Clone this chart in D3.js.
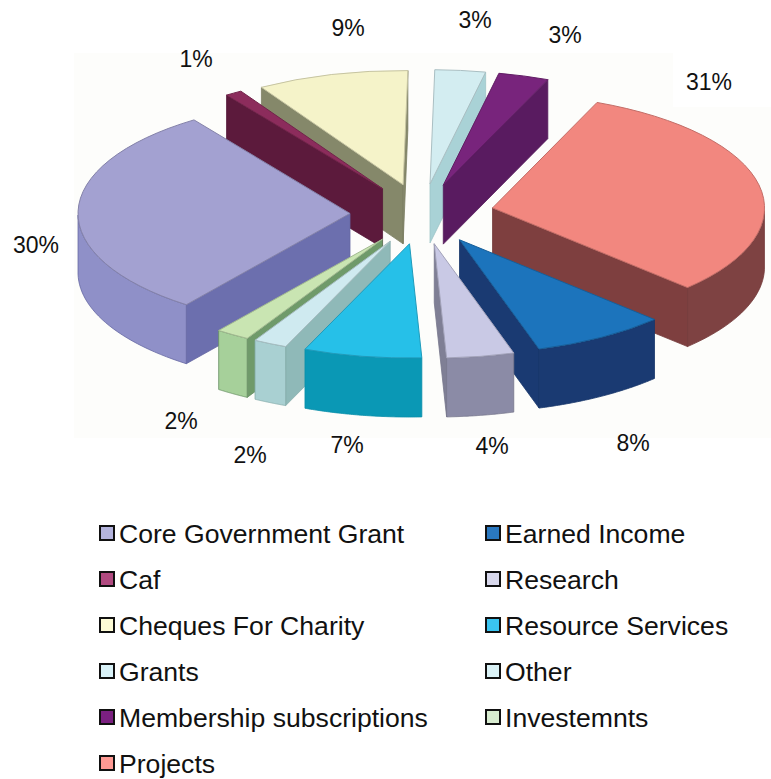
<!DOCTYPE html>
<html>
<head>
<meta charset="utf-8">
<script src="https://cdn.jsdelivr.net/npm/d3@7.9.0/dist/d3.min.js"></script>
<style>
  html, body { margin: 0; padding: 0; background: #fff; }
  svg { display: block; }
  text { font-family: "Liberation Sans", Arial, sans-serif; fill: #111; }
</style>
</head>
<body>
<svg id="chart" width="771" height="779"></svg>
<script>
const categories = ['Core Government Grant', 'Caf', 'Cheques For Charity', 'Grants', 'Membership subscriptions',
    'Projects', 'Earned Income', 'Research', 'Resource Services', 'Other', 'Investemnts'];
const shares = [30, 1, 9, 3, 3, 31, 8, 4, 7, 2, 2];
const topColors = ['#a3a1d1', '#8c2c5c', '#f5f3c9', '#d3edf1', '#78247c', '#f2877f', '#1c74bc', '#c9c9e5', '#26c0e8', '#cfeaf0', '#c9e5b2'];
const wallColors = ['#6c6fae', '#5c1a3c', '#85886a', '#a9d2d6', '#591b60', '#7e3f3f', '#1a3a72', '#7f7f95', '#0a98b5', '#8fb9b8', '#6f9a6a'];
const rimColors = ['#8f90c8', '#5c1a3c', '#85886a', '#a9d2d6', '#591b60', '#7e4242', '#1a3a72', '#8b8ba6', '#0a98b5', '#a9d0d2', '#a6d09a'];
const swatchColors = ['#b3b3dc', '#b04a80', '#fdfbd5', '#d9f2f8', '#7a2080', '#ff9a94', '#2a78c0', '#d8d8ec', '#3ac4f0', '#daf2f6', '#d8ecd0'];

// percent labels, same order as categories
const labelSpots = [[36, 245], [196, 59], [348, 28], [475, 20], [565, 35], [709, 82], [633, 443], [492, 446], [347, 445], [250, 455], [181, 421]];
// legend reads down the first column, then the second
const legendOrder = [0, 1, 2, 3, 4, 5, 6, 7, 8, 9, 10];

const svg = d3.select('#chart');
const cx = 422, cy = 214;     // pie centre before the slices are pulled out
const R = 272, squash = 0.42, depth = 59, pull = 72;

// the scan has a faint off-white plate behind the pie
svg.append('rect').attr('x', 74).attr('y', 53).attr('width', 697).attr('height', 385).attr('fill', '#fdfdfb');
svg.append('rect').attr('x', 673).attr('y', 53).attr('width', 98).attr('height', 54).attr('fill', '#fff');

const pie = d3.pie().value(d => d).sort(null)
    .startAngle(217 * Math.PI / 180)
    .endAngle((217 + 360) * Math.PI / 180);
const arcs = pie(shares);
const topArc = d3.arc().innerRadius(0).outerRadius(R);
const line = d3.line();

function place(tipX, tipY, angle, r, drop) {
    return [tipX + r * Math.sin(angle), tipY - r * Math.cos(angle) * squash + drop];
}

// draw the back slices first
const order = d3.range(arcs.length).sort((a, b) => {
    const mid = d => (arcs[d].startAngle + arcs[d].endAngle) / 2;
    return Math.cos(mid(b)) - Math.cos(mid(a));
});

const sliceGroup = svg.append('g');
order.forEach(i => {
    const d = arcs[i];
    const mid = (d.startAngle + d.endAngle) / 2;
    const tipX = cx + pull * Math.sin(mid);
    const tipY = cy - pull * Math.cos(mid) * squash;
    const g = sliceGroup.append('g');
    const edgeColor = d3.color(wallColors[i]).darker(0.2);

    const wall = angle => [
        [tipX, tipY], place(tipX, tipY, angle, R, 0),
        place(tipX, tipY, angle, R, depth), [tipX, tipY + depth]
    ];

    // radial walls, only the ones turned to the viewer
    if (Math.cos(d.startAngle - Math.PI / 2) < 0) {
        g.append('path').attr('d', line(wall(d.startAngle)) + 'Z')
            .attr('fill', wallColors[i]).attr('stroke', edgeColor).attr('stroke-width', 0.8);
    }
    if (Math.cos(d.endAngle + Math.PI / 2) < 0) {
        g.append('path').attr('d', line(wall(d.endAngle)) + 'Z')
            .attr('fill', wallColors[i]).attr('stroke', edgeColor).attr('stroke-width', 0.8);
    }

    // rim, only the part on the near side of the pie
    const steps = d3.range(0, 61).map(s => d.startAngle + (d.endAngle - d.startAngle) * s / 60)
        .filter(a => Math.cos(a) <= 0);
    if (steps.length > 1) {
        const rim = steps.map(a => place(tipX, tipY, a, R, 0))
            .concat(steps.slice().reverse().map(a => place(tipX, tipY, a, R, depth)));
        g.append('path').attr('d', line(rim) + 'Z')
            .attr('fill', rimColors[i]).attr('stroke', edgeColor).attr('stroke-width', 0.8);
    }

    g.append('path')
        .attr('d', topArc(d))
        .attr('transform', `translate(${tipX},${tipY}) scale(1,${squash})`)
        .attr('fill', topColors[i])
        .attr('stroke', d3.color(topColors[i]).darker(0.6))
        .attr('stroke-width', 1)
        .attr('vector-effect', 'non-scaling-stroke');
});

svg.append('g').selectAll('text')
    .data(shares)
    .join('text')
    .attr('x', (d, i) => labelSpots[i][0])
    .attr('y', (d, i) => labelSpots[i][1])
    .attr('text-anchor', 'middle')
    .attr('dominant-baseline', 'central')
    .attr('font-size', 23)
    .text(d => d + '%');

// legend
const rowY = d3.scalePoint().domain(d3.range(6)).range([534, 764]);
const legend = svg.append('g').selectAll('g')
    .data(legendOrder)
    .join('g')
    .attr('transform', (d, i) => {
        const col = i < 6 ? 0 : 1;
        const row = i < 6 ? i : i - 6;
        return `translate(${col ? 486 : 100},${rowY(row)})`;
    });
legend.append('rect')
    .attr('x', 0).attr('y', -8).attr('width', 14).attr('height', 14)
    .attr('fill', d => swatchColors[d])
    .attr('stroke', '#111').attr('stroke-width', 2);
legend.append('text')
    .attr('x', 19).attr('y', 9)
    .attr('font-size', 26.6)
    .text(d => categories[d]);
</script>
</body>
</html>
